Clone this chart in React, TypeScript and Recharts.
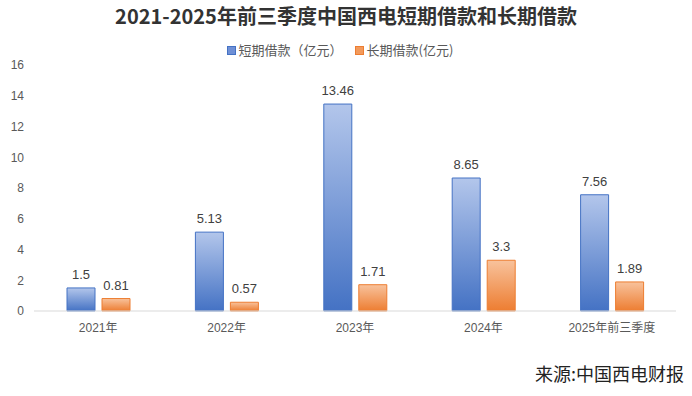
import { BarChart, Bar, XAxis, YAxis, LabelList } from 'recharts';

const title = '2021-2025年前三季度中国西电短期借款和长期借款';
const source = '来源:中国西电财报';

const periods = ['2021年', '2022年', '2023年', '2024年', '2025年前三季度'];
const shortLoans = [1.5, 5.13, 13.46, 8.65, 7.56];
const longLoans = [0.81, 0.57, 1.71, 3.3, 1.89];
const yTicks = [0, 2, 4, 6, 8, 10, 12, 14, 16];

const shortName = '短期借款（亿元）';
const longName = '长期借款(亿元)';

const data = periods.map((p, i) => ({ period: p, short: shortLoans[i], long: longLoans[i] }));

const font = "'Liberation Sans', 'Noto Sans CJK SC', sans-serif";
const cjk = "'Noto Sans CJK SC', sans-serif";

export default function App() {
  return (
    <div style={{ position: 'relative', width: 692, height: 396, background: '#fff', fontFamily: cjk }}>
      <style>{'body{margin:0}'}</style>
      <div
        style={{
          position: 'absolute',
          top: 3,
          left: 0,
          width: 692,
          textAlign: 'center',
          fontSize: 20,
          fontWeight: 700,
          color: '#333',
          lineHeight: '26px',
        }}
      >
        {title}
      </div>

      {/* legend */}
      <div
        style={{
          position: 'absolute',
          top: 40,
          left: -6,
          width: 692,
          display: 'flex',
          justifyContent: 'center',
          gap: 12,
          fontSize: 13,
          color: '#595959',
          lineHeight: '20px',
        }}
      >
        <div style={{ display: 'flex', alignItems: 'center', gap: 3 }}>
          <div style={{ width: 7, height: 7, background: '#6f90d6', border: '1px solid #4472c4' }} />
          <span>{shortName}</span>
        </div>
        <div style={{ display: 'flex', alignItems: 'center', gap: 3 }}>
          <div style={{ width: 7, height: 7, background: '#f29a5c', border: '1px solid #ed7d31' }} />
          <span>{longName}</span>
        </div>
      </div>

      <div style={{ position: 'absolute', top: 0, left: 0 }}>
        <BarChart
          width={692}
          height={396}
          data={data}
          margin={{ top: 65, right: 16, bottom: 55, left: 0 }}
          barSize={28}
          barGap={7}
        >
          <defs>
            <linearGradient id="gShort" x1="0" y1="0" x2="0" y2="1">
              <stop offset="0%" stopColor="#b3c6eb" />
              <stop offset="100%" stopColor="#4472c4" />
            </linearGradient>
            <linearGradient id="gLong" x1="0" y1="0" x2="0" y2="1">
              <stop offset="0%" stopColor="#f8c29c" />
              <stop offset="100%" stopColor="#ed7d31" />
            </linearGradient>
          </defs>
          <XAxis
            dataKey="period"
            height={30}
            tickLine={false}
            axisLine={{ stroke: '#d9d9d9' }}
            tick={{ fontSize: 12, fill: '#595959', fontFamily: font }}
            tickMargin={6}
            interval={0}
          />
          <YAxis
            width={34}
            domain={[0, 16]}
            ticks={yTicks}
            axisLine={false}
            tickLine={false}
            tick={{ fontSize: 12, fill: '#595959', fontFamily: font }}
            tickMargin={4}
          />
          <Bar dataKey="short" name={shortName} fill="url(#gShort)" stroke="#4472c4" strokeWidth={1} isAnimationActive={false}>
            <LabelList dataKey="short" position="top" offset={9} fill="#404040" fontSize={13} fontFamily={font} />
          </Bar>
          <Bar dataKey="long" name={longName} fill="url(#gLong)" stroke="#ed7d31" strokeWidth={1} isAnimationActive={false}>
            <LabelList dataKey="long" position="top" offset={9} fill="#404040" fontSize={13} fontFamily={font} />
          </Bar>
        </BarChart>
      </div>

      <div
        style={{
          position: 'absolute',
          top: 362,
          right: 8,
          fontSize: 18,
          color: '#222',
          lineHeight: '22px',
        }}
      >
        {source}
      </div>
    </div>
  );
}
